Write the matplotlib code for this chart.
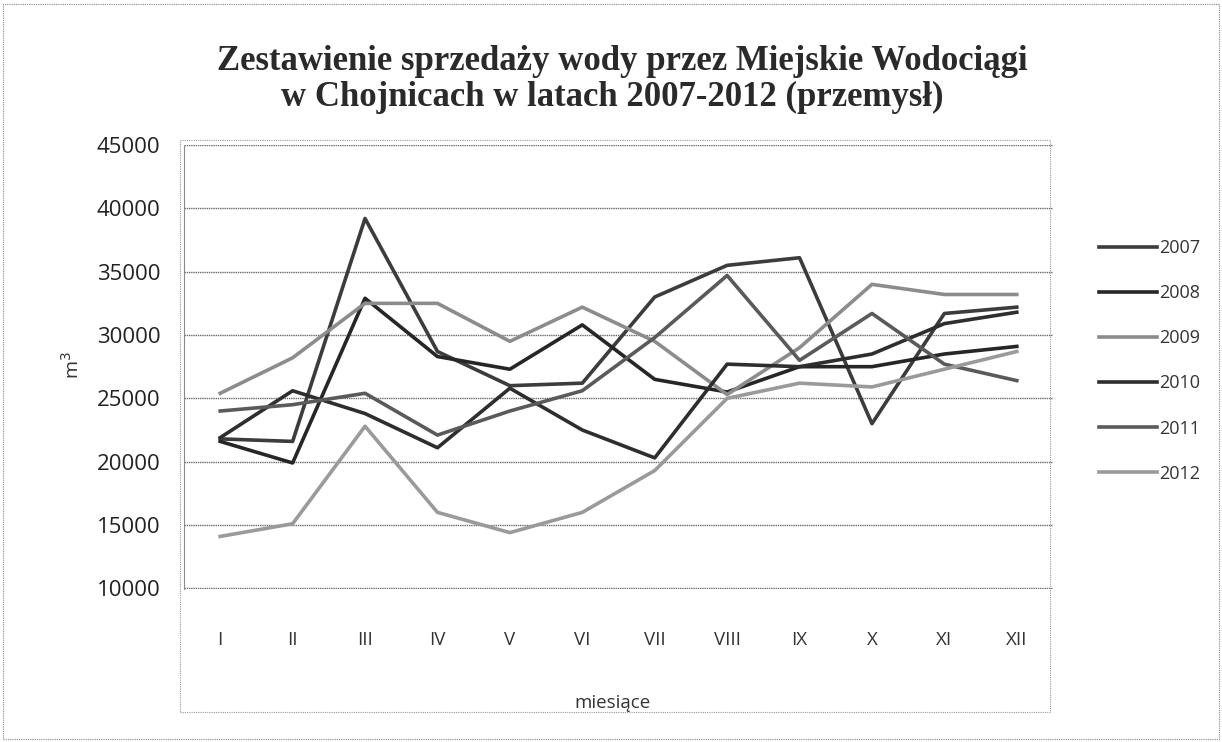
import numpy as np
import matplotlib.pyplot as plt
from matplotlib.patches import Rectangle

months = ['I', 'II', 'III', 'IV', 'V', 'VI', 'VII', 'VIII', 'IX', 'X', 'XI', 'XII']
years = ['2007', '2008', '2009', '2010', '2011', '2012']

s2007 = [21800, 21600, 39200, 28700, 26000, 26200, 33000, 35500, 36100, 23000, 31700, 32200]
s2008 = [21600, 19900, 32900, 28300, 27300, 30800, 26500, 25500, 27500, 27500, 28500, 29100]
s2009 = [25400, 28200, 32500, 32500, 29500, 32200, 29500, 25300, 29000, 34000, 33200, 33200]
s2010 = [21900, 25600, 23800, 21100, 25800, 22500, 20300, 27700, 27500, 28500, 30900, 31800]
s2011 = [24000, 24500, 25400, 22100, 24000, 25600, 29800, 34700, 28000, 31700, 27700, 26400]
s2012 = [14100, 15100, 22800, 16000, 14400, 16000, 19300, 25000, 26200, 25900, 27300, 28700]

series = [s2007, s2008, s2009, s2010, s2011, s2012]
colors = ['#3c3c3c', '#262626', '#8c8c8c', '#2e2e2e', '#5a5a5a', '#9a9a9a']

W, H = 1222, 742
fig = plt.figure(figsize=(W / 100, H / 100), dpi=100)
ax = fig.add_axes([184 / W, 1 - 589 / H, (1053 - 184) / W, (589 - 145) / H])

x = np.arange(len(months))
for vals, c, lab in zip(series, colors, years):
    ax.plot(x, vals, color=c, linewidth=2.6, label=lab)

ax.set_xlim(-0.5, len(months) - 0.5)
ax.set_ylim(9950, 45000)
ax.set_yticks(np.arange(10000, 45001, 5000))
ax.yaxis.grid(True, color='#6a6a6a', linewidth=1.0, linestyle=(0, (1, 0.6)))
ax.set_axisbelow(True)
for side in ['top', 'right', 'bottom']:
    ax.spines[side].set_visible(False)
ax.spines['left'].set_color('#8a8a8a')
ax.spines['left'].set_linestyle((0, (1, 1)))
ax.tick_params(axis='both', length=0, colors='#222222')
ax.tick_params(axis='y', labelsize=16, pad=17)
ax.tick_params(axis='x', labelsize=13.5, pad=30)
ax.set_xticks(x)
ax.set_xticklabels(months, family='Open Sans', color='#333333')
for t in ax.get_yticklabels():
    t.set_family('Open Sans')

fig.text(72 / W, 1 - 365 / H, 'm$^3$', rotation=90, ha='center', va='center',
         fontsize=14, family='Open Sans', color='#333333')
fig.text(612 / W, 1 - 703 / H, 'miesiące', ha='center', va='center',
         fontsize=13.5, family='Open Sans', color='#333333')

fig.text(622 / W, 1 - 62 / H, 'Zestawienie sprzedaży wody przez Miejskie Wodociągi',
         ha='center', va='center', fontsize=25, weight='bold',
         family='Liberation Serif', color='#2a2a2a')
fig.text(612 / W, 1 - 97 / H, 'w Chojnicach w latach 2007-2012 (przemysł)',
         ha='center', va='center', fontsize=25, weight='bold',
         family='Liberation Serif', color='#2a2a2a')

leg = ax.legend(loc='upper left', bbox_to_anchor=(1083 / W, 1 - 223 / H),
                bbox_transform=fig.transFigure, frameon=False,
                handlelength=3.2, handletextpad=0.1, labelspacing=1.5,
                prop={'family': 'Open Sans', 'size': 13})
for t in leg.get_texts():
    t.set_color('#333333')

# plot area and chart frames
fig.patches.append(Rectangle((180 / W, 1 - 712 / H), (1050 - 180) / W, (712 - 140) / H,
                             transform=fig.transFigure, fill=False, edgecolor='#9a9a9a',
                             linewidth=0.8, linestyle=(0, (1, 1))))
fig.patches.append(Rectangle((3 / W, 0.004), 1 - 6 / W, 0.99,
                             transform=fig.transFigure, fill=False, edgecolor='#888888',
                             linewidth=0.8, linestyle=(0, (1, 1))))

fig.savefig('out.png', dpi=100)
